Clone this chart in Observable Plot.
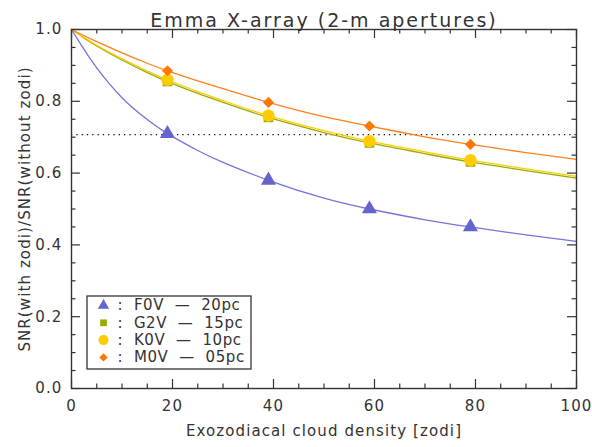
<!DOCTYPE html>
<html>
<head>
<meta charset="utf-8">
<script src="https://cdn.jsdelivr.net/npm/d3@7"></script>
<script src="https://cdn.jsdelivr.net/npm/@observablehq/plot@0.6"></script>
<style>
  html, body { margin: 0; padding: 0; background: white; }
  svg text { letter-spacing: 1.1px; }
</style>
</head>
<body>
<div id="chart"></div>
<script>
// ---- data ----
const title = "Emma X-array (2-m apertures)";
const xLabel = "Exozodiacal cloud density [zodi]";
const yLabel = "SNR(with zodi)/SNR(without zodi)";

const zodi = [0, 2, 5, 10, 15, 19, 25, 30, 39, 50, 59, 70, 79, 90, 100];
const f0v = [1.0, 0.955, 0.893, 0.81, 0.749, 0.71, 0.663, 0.63, 0.58, 0.53, 0.50, 0.47, 0.45, 0.428, 0.41];
const g2v = [1.0, 0.981, 0.954, 0.915, 0.88, 0.855, 0.822, 0.797, 0.755, 0.713, 0.684, 0.654, 0.631, 0.607, 0.586];
const k0v = [1.0, 0.982, 0.956, 0.918, 0.884, 0.86, 0.827, 0.802, 0.76, 0.718, 0.689, 0.659, 0.636, 0.612, 0.591];
const m0v = [1.0, 0.986, 0.966, 0.935, 0.906, 0.885, 0.857, 0.835, 0.797, 0.757, 0.731, 0.701, 0.68, 0.657, 0.638];
const markerZodi = [19, 39, 59, 79];
const threshold = 0.707;

const seriesNames = ["F0V", "G2V", "K0V", "M0V"];
const seriesLegend = [":  F0V  —  20pc", ":  G2V  —  15pc", ":  K0V  —  10pc", ":  M0V  —  05pc"];
const seriesColors = ["#6464cc", "#99aa00", "#ffcc00", "#ff7700"];
const lineColors = ["#7474dc", "#99aa00", "#ffcc00", "#ff8020"];
const seriesSymbols = ["triangle", "square", "circle", "diamond2"];
const seriesR = [5.6, 5.4, 6.2, 5.0];
const legendR = [4.2, 3.8, 5.0, 3.8];

const xMajor = [0, 20, 40, 60, 80, 100];
const xMinor = d3.range(0, 101, 5).filter(v => v % 20 !== 0);
const yMajor = [0, 0.2, 0.4, 0.6, 0.8, 1.0];
const yMinor = d3.range(0, 21).map(i => i * 0.05).filter((v, i) => i % 4 !== 0);

// ---- build tables ----
const valuesBySeries = [f0v, g2v, k0v, m0v];
const curves = valuesBySeries.flatMap((vals, s) =>
  zodi.map((z, i) => ({series: seriesNames[s], x: z, y: vals[i]})));
const markers = curves.filter(d => markerZodi.includes(d.x));

// ---- layout ----
const W = 592, H = 447;
const mL = 71, mR = 16, mT = 29, mB = 59;
const innerW = W - mL - mR, innerH = H - mT - mB;
const majorLen = 9, minorLen = 4.5;

// legend placement expressed through the scales (pixel -> data)
const px2x = p => (p - mL) / innerW * 100;
const px2y = p => 1 - (p - mT) / innerH;
const legendRows = seriesNames.map((s, i) => ({
  series: s, label: seriesLegend[i], y: px2y(305 + i * 17.3)
}));

const font = "'DejaVu Sans', 'Liberation Sans', sans-serif";
const ink = "#333";

const marks = [
  // dotted threshold
  Plot.ruleY([threshold], {stroke: "#111", strokeWidth: 1.3, strokeDasharray: "1.3,4"}),
  // curves
  ...seriesNames.map((s, i) => Plot.line(curves.filter(d => d.series === s), {
    x: "x", y: "y", stroke: lineColors[i], strokeWidth: 1.3, curve: "natural"
  })),
  // markers
  ...seriesNames.map((s, i) => Plot.dot(markers.filter(d => d.series === s), {
    x: "x", y: "y", symbol: seriesSymbols[i], fill: seriesColors[i], stroke: "none", r: seriesR[i]
  })),
  // frame and inward ticks on all sides
  Plot.frame({stroke: ink, strokeWidth: 1.4}),
  Plot.ruleX(xMajor, {x: d => d, insetTop: innerH - majorLen, stroke: ink, strokeWidth: 1.2}),
  Plot.ruleX(xMajor, {x: d => d, insetBottom: innerH - majorLen, stroke: ink, strokeWidth: 1.2}),
  Plot.ruleX(xMinor, {x: d => d, insetTop: innerH - minorLen, stroke: ink, strokeWidth: 1.2}),
  Plot.ruleX(xMinor, {x: d => d, insetBottom: innerH - minorLen, stroke: ink, strokeWidth: 1.2}),
  Plot.ruleY(yMajor, {y: d => d, insetRight: innerW - majorLen, stroke: ink, strokeWidth: 1.2}),
  Plot.ruleY(yMajor, {y: d => d, insetLeft: innerW - majorLen, stroke: ink, strokeWidth: 1.2}),
  Plot.ruleY(yMinor, {y: d => d, insetRight: innerW - minorLen, stroke: ink, strokeWidth: 1.2}),
  Plot.ruleY(yMinor, {y: d => d, insetLeft: innerW - minorLen, stroke: ink, strokeWidth: 1.2}),
  // axes (labels only)
  Plot.axisX(xMajor, {tickSize: 0, tickPadding: 12, tickFormat: d => String(d),
    label: xLabel, labelAnchor: "center", labelOffset: 47, labelArrow: "none", fontSize: 15}),
  Plot.axisY(yMajor, {tickSize: 0, tickPadding: 9, tickFormat: d => d.toFixed(1),
    label: yLabel, labelAnchor: "center", labelOffset: 52, labelArrow: "none", fontSize: 15}),
  // title
  Plot.text([title], {text: d => d, frameAnchor: "top", dy: -16, fontSize: 19, fill: ink}),
  // legend box
  Plot.rect([0], {x1: px2x(87), x2: px2x(251), y1: px2y(369), y2: px2y(296),
    fill: "white", stroke: ink, strokeWidth: 1.3}),
  ...legendRows.map((row, i) => Plot.dot([row], {
    x: px2x(103), y: "y", symbol: seriesSymbols[i], fill: seriesColors[i], stroke: "none", r: legendR[i]
  })),
  Plot.text(legendRows, {x: px2x(117), y: "y", text: "label", textAnchor: "start",
    fontSize: 15, fill: ink})
];

const chart = Plot.plot({
  width: W, height: H,
  marginLeft: mL, marginRight: mR, marginTop: mT, marginBottom: mB,
  x: {domain: [0, 100]},
  y: {domain: [0, 1]},
  style: {fontFamily: font, fontSize: "15px", color: ink, background: "white", overflow: "visible"},
  marks
});
d3.select(chart).selectAll("text")
  .filter(function() { return this.textContent === title; })
  .style("letter-spacing", "2px");
d3.select(chart).selectAll("text")
  .filter(function() { return this.textContent.startsWith(":"); })
  .style("letter-spacing", "0.6px");
d3.select(chart).selectAll("text")
  .style("white-space", "pre");
document.getElementById("chart").appendChild(chart);
</script>
</body>
</html>
